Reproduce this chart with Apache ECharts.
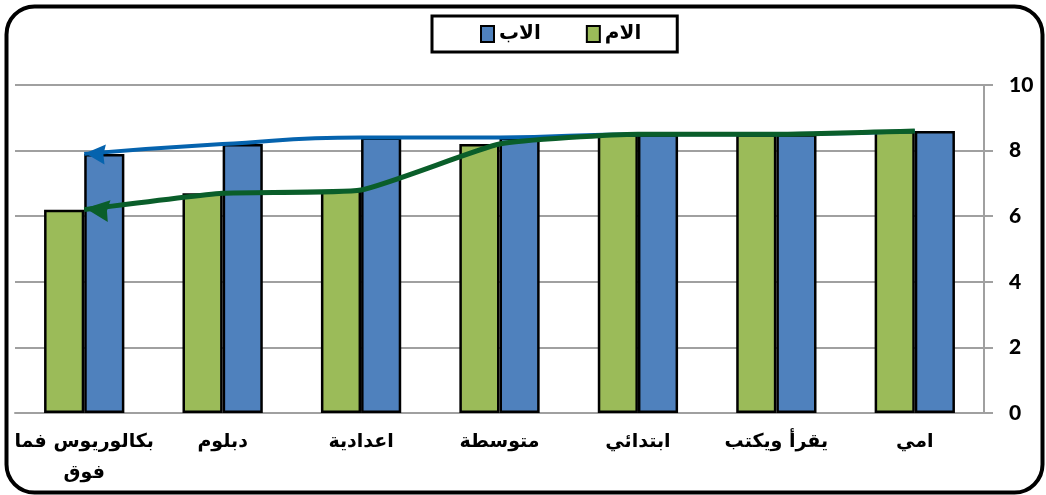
<!DOCTYPE html>
<html>
<head>
<meta charset="utf-8">
<script src="https://cdn.jsdelivr.net/npm/echarts@6/dist/echarts.min.js"></script>
<style>
html,body{margin:0;padding:0;background:#fff;}
#c{width:1046px;height:495px;}
</style>
</head>
<body>
<div id="c"></div>
<script>
// Data
const categories = ['امي', 'يقرأ ويكتب', 'ابتدائي', 'متوسطة', 'اعدادية', 'دبلوم', 'بكالوريوس فما فوق'];
const motherValues = [8.6, 8.5, 8.5, 8.2, 6.8, 6.7, 6.2];   // الام
const fatherValues = [8.6, 8.5, 8.5, 8.4, 8.4, 8.2, 7.9];   // الاب
const seriesNames = ['الام', 'الاب'];
const yTicks = [0, 2, 4, 6, 8, 10];

const arabicFont = '"DejaVu Sans", sans-serif';
const chart = echarts.init(document.getElementById('c'));
const lastIdx = categories.length - 1;
// left-pointing stealth arrow head, tip at the left edge
const arrowPath = 'path://M0,10L22,0L20,10L22,20Z';

function lineSeries(name, arr, rot, color, width, smooth, z, size) {
  return {
    name: name, type: 'line', data: arr,
    smooth: smooth, showSymbol: true, showAllSymbol: true, z: z,
    symbol: (val, p) => p.dataIndex === lastIdx ? arrowPath : 'none',
    symbolSize: size, symbolRotate: rot, symbolOffset: [size[0] / 2 + 1, 0],
    lineStyle: { color: color, width: width },
    itemStyle: { color: color, borderWidth: 0 }
  };
}

chart.setOption({
  animation: false,
  graphic: [{
    type: 'rect', left: 4, top: 4, z: 100,
    shape: { width: 1036, height: 486, r: 28 },
    style: { fill: 'none', stroke: '#000', lineWidth: 4 }
  }],
  legend: {
    data: [seriesNames[1], seriesNames[0]],
    icon: 'rect',
    left: 432, top: 16,
    padding: [8, 36, 8, 48],
    itemGap: 45,
    itemWidth: 13, itemHeight: 16,
    borderColor: '#000', borderWidth: 3,
    itemStyle: { borderColor: '#000', borderWidth: 2 },
    textStyle: { fontFamily: arabicFont, fontWeight: 'bold', fontSize: 20, color: '#000' }
  },
  grid: { left: 15, right: 62, top: 85, bottom: 82 },
  xAxis: {
    type: 'category', data: categories, inverse: true,
    axisLine: { lineStyle: { color: '#A0A0A0', width: 2 } },
    axisTick: { length: 9, lineStyle: { color: '#A0A0A0', width: 2 } },
    axisLabel: {
      interval: 0, margin: 14, color: '#000', fontFamily: arabicFont,
      fontWeight: 'bold', fontSize: 19, lineHeight: 31,
      formatter: v => v.replace(' فما فوق', ' فما\nفوق')
    }
  },
  yAxis: {
    type: 'value', position: 'right', min: yTicks[0], max: yTicks[yTicks.length - 1], interval: 2,
    axisLine: { show: true, lineStyle: { color: '#A0A0A0', width: 2 } },
    axisTick: { show: true, length: 9, lineStyle: { color: '#A0A0A0', width: 2 } },
    splitLine: { lineStyle: { color: '#A0A0A0', width: 2 } },
    axisLabel: { margin: 25, color: '#000', fontFamily: 'Lato', fontWeight: 900, fontSize: 21 }
  },
  series: [
    {
      name: seriesNames[0], type: 'bar', data: motherValues,
      barGap: '0%', barCategoryGap: '42%',
      itemStyle: { color: '#9BBB59', borderColor: '#000', borderWidth: 2.5 }
    },
    {
      name: seriesNames[1], type: 'bar', data: fatherValues,
      barGap: '0%', barCategoryGap: '42%',
      itemStyle: { color: '#4F81BD', borderColor: '#000', borderWidth: 2.5 }
    },
    lineSeries('fatherLine', fatherValues, -4, '#0563AE', 4, 0.5, 5, [20, 20]),
    lineSeries('motherLine', motherValues, -7, '#0A5E2A', 5, 0.15, 6, [24, 22])
  ]
});
</script>
</body>
</html>
